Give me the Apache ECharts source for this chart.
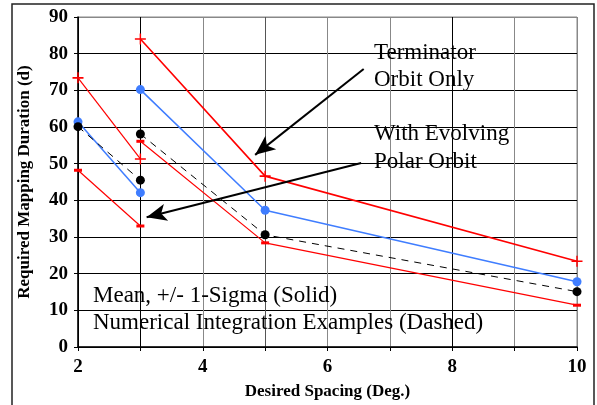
<!DOCTYPE html>
<html>
<head>
<meta charset="utf-8">
<script src="https://cdn.jsdelivr.net/npm/echarts@6/dist/echarts.min.js"></script>
<style>
  html, body { margin: 0; padding: 0; background: #fff; }
  #chart { width: 597px; height: 405px; }
</style>
</head>
<body>
<div id="chart"></div>
<script>
// Terminator orbit only: mean and +/- 1-sigma, plus the numerical integration run
const termSpacing = [3, 5, 10];
const termUpper = [84.0, 46.6, 23.4];
const termMean = [70.2, 37.3, 17.8];
const termLower = [56.1, 28.4, 11.4];
const termNumeric = [58.1, 30.6, 15.1];

// With evolving polar orbit
const polarSpacing = [2, 3];
const polarUpper = [73.4, 51.3];
const polarMean = [61.4, 42.1];
const polarLower = [48.2, 33.0];
const polarNumeric = [60.1, 45.5];

const xTicks = [2, 4, 6, 8, 10];
const yTicks = [0, 10, 20, 30, 40, 50, 60, 70, 80, 90];

const pairs = (xs, ys) => xs.map((x, i) => [x, ys[i]]);

const SERIF = '"Liberation Serif", "Times New Roman", serif';
const RED = '#ff0000';
const BLUE = '#3f7dff';
const PLUS = 'path://M0,4.3H10V5.7H0Z M4.35,0H5.65V10H4.35Z';

function redLine(name, xs, ys, upper, width) {
  return {
    name, type: 'line', data: pairs(xs, ys),
    symbol: upper ? PLUS : 'rect',
    symbolSize: upper ? [11, 11] : [8, 3],
    itemStyle: { color: RED },
    lineStyle: { color: RED, width },
    clip: false, z: 3
  };
}
function meanLine(name, xs, ys) {
  return {
    name, type: 'line', data: pairs(xs, ys),
    symbol: 'circle', symbolSize: 9,
    itemStyle: { color: BLUE },
    lineStyle: { color: BLUE, width: 1.5 },
    clip: false, z: 4
  };
}
function numericLine(name, xs, ys) {
  return {
    name, type: 'line', data: pairs(xs, ys),
    symbol: 'circle', symbolSize: 9,
    itemStyle: { color: '#000' },
    lineStyle: { color: '#000', width: 1, type: [7, 6] },
    clip: false, z: 5
  };
}

const chart = echarts.init(document.getElementById('chart'), null, { renderer: 'canvas' });

const option = {
  animation: false,
  backgroundColor: '#fff',
  grid: { left: 78, right: 20, top: 17, bottom: 58, show: true, borderColor: '#888', borderWidth: 1 },
  xAxis: {
    type: 'value', min: 2, max: 10, interval: 1,
    name: 'Desired Spacing (Deg.)', nameLocation: 'middle', nameGap: 36,
    nameTextStyle: { fontFamily: SERIF, fontWeight: 'bold', fontSize: 17, color: '#000' },
    axisLine: { show: true, lineStyle: { color: '#000', width: 1.5 } },
    axisTick: { show: true, length: 4, lineStyle: { color: '#000' } },
    axisLabel: {
      margin: 11, fontFamily: SERIF, fontWeight: 'bold', fontSize: 19, color: '#000',
      formatter: v => (xTicks.indexOf(v) >= 0 ? String(v) : '')
    },
    splitLine: {
      show: true,
      lineStyle: { width: 1, color: ['#000', '#000', '#888', '#555', '#888', '#888', '#000', '#888', '#888'] }
    }
  },
  yAxis: {
    type: 'value', min: 0, max: 90, interval: 10,
    name: 'Required Mapping Duration (d)', nameLocation: 'middle', nameGap: 45,
    nameTextStyle: { fontFamily: SERIF, fontWeight: 'bold', fontSize: 17, color: '#000' },
    axisLine: { show: true, lineStyle: { color: '#000', width: 1.5 } },
    axisTick: { show: true, length: 4, lineStyle: { color: '#000' } },
    axisLabel: {
      margin: 10, fontFamily: SERIF, fontWeight: 'bold', fontSize: 19, color: '#000',
      formatter: v => (yTicks.indexOf(v) >= 0 ? String(v) : '')
    },
    splitLine: {
      show: true,
      lineStyle: { width: 1, color: ['#000', '#000', '#000', '#000', '#000', '#000', '#000', '#000', '#000', '#888'] }
    }
  },
  series: [
    redLine('Terminator +1 sigma', termSpacing, termUpper, true, 1.6),
    meanLine('Terminator mean', termSpacing, termMean),
    redLine('Terminator -1 sigma', termSpacing, termLower, false, 1.2),
    numericLine('Terminator numerical', termSpacing, termNumeric),
    redLine('Polar +1 sigma', polarSpacing, polarUpper, true, 1.2),
    meanLine('Polar mean', polarSpacing, polarMean),
    redLine('Polar -1 sigma', polarSpacing, polarLower, false, 1.2),
    numericLine('Polar numerical', polarSpacing, polarNumeric),
    {
      // callout arrows, placed in axis units
      name: 'callouts', type: 'line', data: [], silent: true, z: 6,
      markLine: {
        silent: true, animation: false,
        symbol: ['none', 'arrow'], symbolSize: [13, 20],
        label: { show: false },
        lineStyle: { color: '#000', width: 2, type: 'solid' },
        data: [
          [{ coord: [6.58, 75.8] }, { coord: [4.84, 52.4] }],
          [{ coord: [6.54, 50.2] }, { coord: [3.1, 35.4] }]
        ]
      }
    }
  ],
  graphic: [
    {
      type: 'rect', silent: true, z: 0,
      shape: { x: 12, y: 4, width: 582, height: 420 },
      style: { fill: 'none', stroke: '#222', lineWidth: 1.5 }
    },
    {
      type: 'text', left: 374, top: 39, z: 10,
      style: { text: 'Terminator\nOrbit Only', font: '23px ' + SERIF, fill: '#000', lineHeight: 27 }
    },
    {
      type: 'text', left: 374, top: 120, z: 10,
      style: { text: 'With Evolving\nPolar Orbit', font: '23px ' + SERIF, fill: '#000', lineHeight: 28 }
    },
    {
      type: 'text', left: 93, top: 282, z: 10,
      style: { text: 'Mean, +/- 1-Sigma (Solid)\nNumerical Integration Examples (Dashed)', font: '23px ' + SERIF, fill: '#000', lineHeight: 27 }
    }
  ]
};

chart.setOption(option);
</script>
</body>
</html>
